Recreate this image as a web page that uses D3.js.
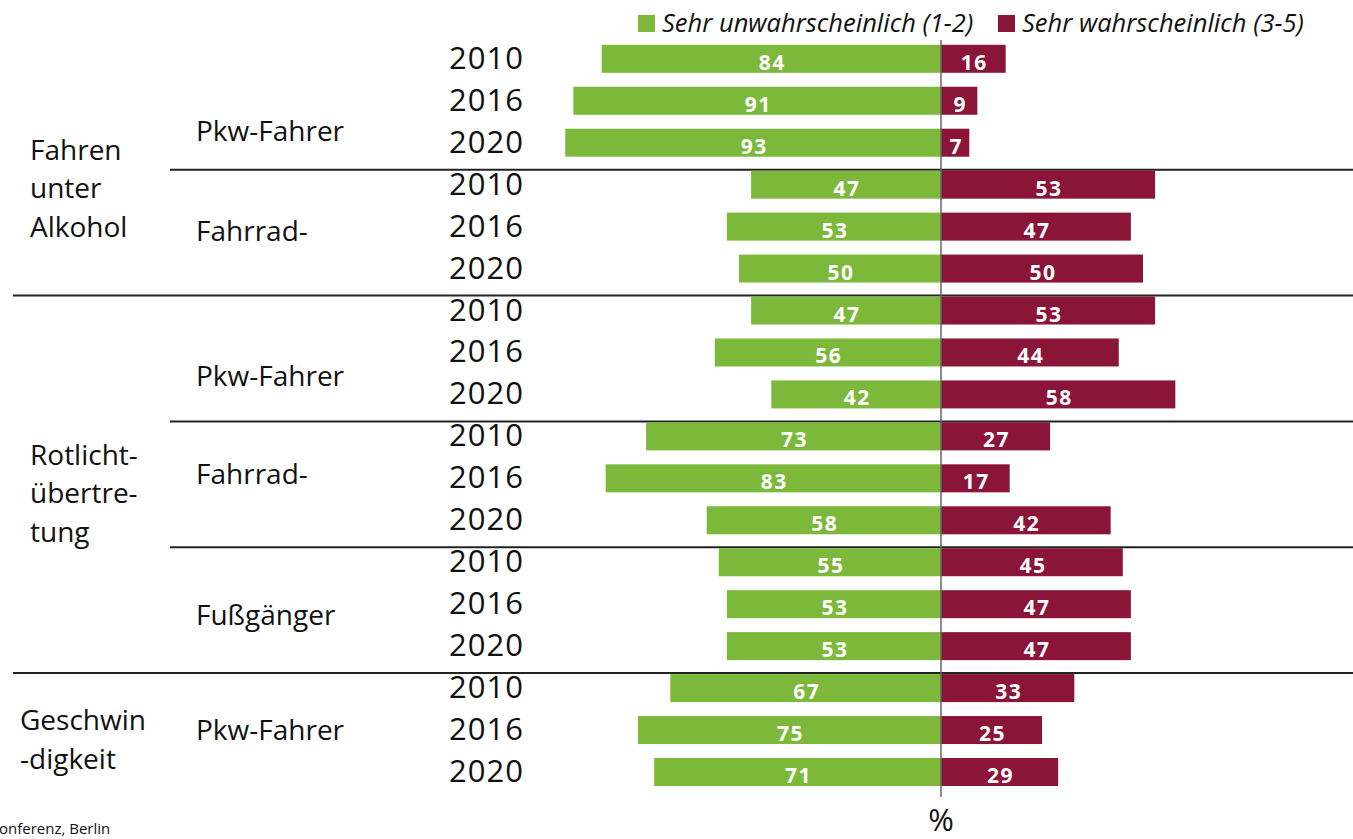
<!DOCTYPE html>
<html>
<head>
<meta charset="utf-8">
<script src="https://cdn.jsdelivr.net/npm/d3@7.9.0/dist/d3.min.js"></script>
<style>
  html, body { margin: 0; padding: 0; background: #fff; }
  svg { display: block; font-family: "Open Sans", sans-serif; }
</style>
</head>
<body>
<svg id="chart" width="1353" height="839"></svg>
<script>
// values
const years = ['2010', '2016', '2020'];
const groupLines = [['Fahren', 'unter', 'Alkohol'], ['Rotlicht-', 'übertre-', 'tung'], ['Geschwin', '-digkeit']];
const subgroups = ['Pkw-Fahrer', 'Fahrrad-', 'Pkw-Fahrer', 'Fahrrad-', 'Fußgänger', 'Pkw-Fahrer'];
const subgroupGroup = [0, 0, 1, 1, 1, 2];
const unlikely = [84, 91, 93, 47, 53, 50, 47, 56, 42, 73, 83, 58, 55, 53, 53, 67, 75, 71];
const likely = [16, 9, 7, 53, 47, 50, 53, 44, 58, 27, 17, 42, 45, 47, 47, 33, 25, 29];
const legendLabels = ['Sehr unwahrscheinlich (1-2)', 'Sehr wahrscheinlich (3-5)'];

const green = '#7cb93a', red = '#8a1538';

// layout tweaks (label placement in row units)
const groupLabelRow = [2.41, 9.68, 16.0];
const subLabelRow = [1.73, 4.1, 7.55, 9.9, 13.26, 16.0];

const rows = subgroups.flatMap((s, si) => years.map((y, yi) => ({
  sub: si, year: y, idx: si * 3 + yi
})));
rows.forEach(d => { d.u = unlikely[d.idx]; d.l = likely[d.idx]; });

const svg = d3.select('#chart');
const x = d3.scaleLinear().domain([-100, 100]).range([941 - 404, 941 + 404]);
const rowY = d3.scaleLinear().domain([0, rows.length - 1]).range([58.8, 772]);
const barH = 28;

// separators
const seps = subgroups.map((s, i) => i).filter(i => i > 0);
svg.append('g').selectAll('line').data(seps).join('line')
  .attr('x1', i => subgroupGroup[i] !== subgroupGroup[i - 1] ? 13 : 170)
  .attr('x2', 1353)
  .attr('y1', i => rowY(i * 3) - barH / 2 - 1)
  .attr('y2', i => rowY(i * 3) - barH / 2 - 1)
  .attr('stroke', '#222').attr('stroke-width', 2);

// bars
const bars = svg.append('g');
bars.selectAll('rect.u').data(rows).join('rect').attr('class', 'u')
  .attr('x', d => x(-d.u)).attr('width', d => x(0) - x(-d.u))
  .attr('y', d => rowY(d.idx) - barH / 2).attr('height', barH)
  .attr('fill', green);
bars.selectAll('rect.l').data(rows).join('rect').attr('class', 'l')
  .attr('x', x(0)).attr('width', d => x(d.l) - x(0))
  .attr('y', d => rowY(d.idx) - barH / 2).attr('height', barH)
  .attr('fill', red);

// value labels
const vl = svg.append('g').attr('fill', '#fff').attr('font-weight', 700)
  .attr('font-size', 21).attr('text-anchor', 'middle').style('letter-spacing', '1.5px');
vl.selectAll('text.u').data(rows).join('text').attr('class', 'u')
  .attr('x', d => (x(-d.u) + x(0)) / 2 + 1).attr('y', d => rowY(d.idx) + 11)
  .text(d => d.u);
vl.selectAll('text.l').data(rows).join('text').attr('class', 'l')
  .attr('x', d => (x(d.l) + x(0)) / 2 + 1).attr('y', d => rowY(d.idx) + 11)
  .text(d => d.l);

// center line
svg.append('line').attr('x1', x(0)).attr('x2', x(0)).attr('y1', 40).attr('y2', 797)
  .attr('stroke', '#666').attr('stroke-width', 1.5);

// year labels
svg.append('g').attr('font-size', 31).attr('text-anchor', 'end').attr('fill', '#111')
  .style('letter-spacing', '1px')
  .selectAll('text').data(rows).join('text')
  .attr('x', 524).attr('y', d => rowY(d.idx) + 10)
  .text(d => d.year);

// subgroup labels
svg.append('g').attr('font-size', 28).attr('fill', '#111')
  .selectAll('text').data(subgroups).join('text')
  .attr('x', 196).attr('y', (d, i) => rowY(subLabelRow[i]) + 10)
  .text(d => d);

// group labels
const gl = svg.append('g').attr('font-size', 28).attr('fill', '#111');
groupLines.forEach((lines, gi) => {
  gl.append('g').selectAll('text').data(lines).join('text')
    .attr('x', gi === 2 ? 20 : 30)
    .attr('y', (d, i) => rowY(groupLabelRow[gi]) + i * 38.5)
    .text(d => d);
});

// legend
const lg = svg.append('g').attr('font-size', 25.5).attr('font-style', 'italic').attr('fill', '#111');
const legendX = [638, 998];
legendLabels.forEach((t, i) => {
  lg.append('rect').attr('x', legendX[i]).attr('y', 15).attr('width', 17).attr('height', 17)
    .attr('fill', i === 0 ? green : red);
  lg.append('text').attr('x', legendX[i] + 24).attr('y', 32).text(t);
});

// footer
svg.append('text').attr('x', 941).attr('y', 831).attr('text-anchor', 'middle')
  .attr('font-size', 31).attr('fill', '#111').text('%');
svg.append('text').attr('x', -1).attr('y', 834).attr('font-size', 15).attr('fill', '#111')
  .text('onferenz, Berlin');
</script>
</body>
</html>
